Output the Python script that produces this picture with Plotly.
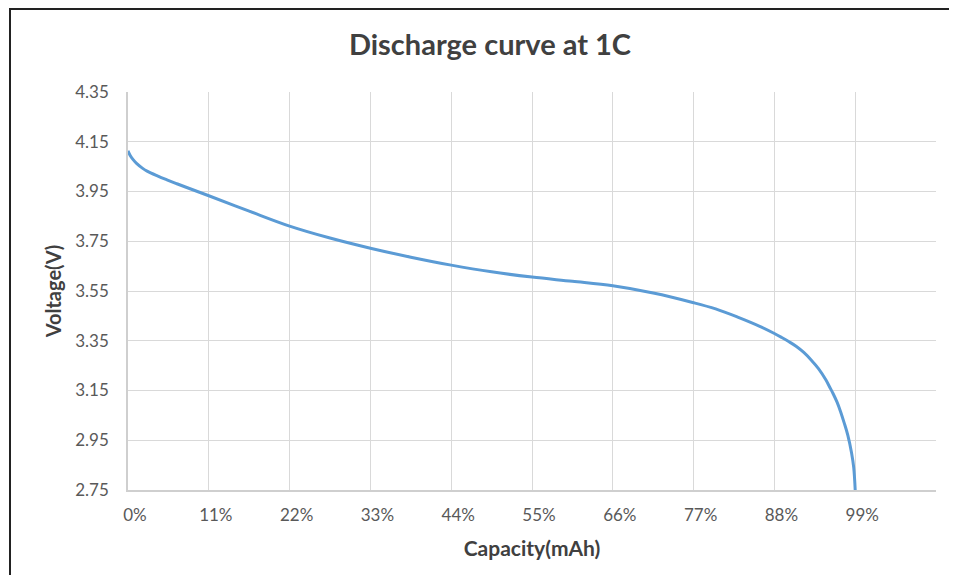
import plotly.graph_objects as go

# Data
capacity_pct = [0, 0.3, 0.7, 1.2, 2.0, 2.6, 4.0, 5.3, 6.5, 8, 11, 16.5, 22, 27.5, 33,
                38.5, 44, 49.5, 55, 60.5, 66, 71.5, 77, 80, 83, 86, 88, 89, 90, 91, 92,
                93, 94, 95, 95.5, 96, 96.5, 97, 97.5, 98, 98.5, 98.8, 99.0]
voltage = [4.114, 4.095, 4.078, 4.062, 4.043, 4.032, 4.013, 3.997, 3.983, 3.966, 3.933,
           3.871, 3.811, 3.763, 3.722, 3.686, 3.654, 3.627, 3.606, 3.589, 3.571, 3.542,
           3.503, 3.478, 3.445, 3.408, 3.379, 3.363, 3.346, 3.327, 3.303, 3.273, 3.238,
           3.193, 3.165, 3.137, 3.105, 3.066, 3.020, 2.970, 2.900, 2.840, 2.75]

x_tickvals = [0, 11, 22, 33, 44, 55, 66, 77, 88, 99, 110]
x_ticktext = ["0%", "11%", "22%", "33%", "44%", "55%", "66%", "77%", "88%", "99%", ""]
y_tickvals = [2.75, 2.95, 3.15, 3.35, 3.55, 3.75, 3.95, 4.15, 4.35]
y_ticktext = ["2.75", "2.95", "3.15", "3.35", "3.55", "3.75", "3.95", "4.15", "4.35"]

# The page body has an 8px margin, so work in figure coordinates = reference - 8
OFF = 8
W, H = 957 - 2 * OFF, 583 - 2 * OFF
L, T = 128 - OFF, 92 - OFF
pw, ph = 808, 398
R = W - L - pw
B = H - T - ph


def px_x(p):
    return (p - OFF - L) / pw


def px_y(p):
    return (H - B - (p - OFF)) / ph


FONT = "Lato"
GRID = "#d9d9d9"
TXT = "#595959"

fig = go.Figure()
fig.add_trace(go.Scatter(
    x=capacity_pct, y=voltage, mode="lines",
    line=dict(color="#5b9bd5", width=3, shape="spline", smoothing=1.0),
    showlegend=False, hoverinfo="x+y",
))

fig.update_layout(
    width=W, height=H,
    margin=dict(l=L, r=R, t=T, b=B),
    paper_bgcolor="white", plot_bgcolor="white",
    title=dict(text="Discharge curve at 1C", x=(490 - OFF) / W, xref="container",
               xanchor="center", y=1 - (45 - OFF) / H, yref="container", yanchor="middle",
               font=dict(family=FONT, size=29, color="#404040", weight="bold")),
    xaxis=dict(range=[0, 110], tickmode="array", tickvals=x_tickvals, ticktext=x_ticktext,
               showgrid=True, gridcolor=GRID, gridwidth=1, zeroline=False,
               showline=True, linecolor="#cfcfcf", linewidth=1.5,
               ticks="outside", ticklen=9, tickcolor="rgba(0,0,0,0)",
               ticklabelshift=7,
               tickfont=dict(family=FONT, size=17, color=TXT),
               title=dict(text="Capacity(mAh)", standoff=17,
                          font=dict(family=FONT, size=21, color="#404040", weight="bold"))),
    yaxis=dict(range=[2.75, 4.35], tickmode="array", tickvals=y_tickvals, ticktext=y_ticktext,
               showgrid=True, gridcolor=GRID, gridwidth=1, zeroline=False,
               showline=True, linecolor="#cfcfcf", linewidth=1.5,
               ticks="outside", ticklen=14, tickcolor="rgba(0,0,0,0)",
               tickfont=dict(family=FONT, size=17, color=TXT),
               title=dict(text="Voltage(V)", standoff=8,
                          font=dict(family=FONT, size=20, color="#404040", weight="bold"))),
    shapes=[
        dict(type="line", xref="paper", yref="paper", x0=px_x(10), x1=px_x(10),
             y0=px_y(9), y1=px_y(600), line=dict(color="#222222", width=2), layer="above"),
        dict(type="line", xref="paper", yref="paper", x0=px_x(9), x1=px_x(970),
             y0=px_y(9), y1=px_y(9), line=dict(color="#222222", width=2), layer="above"),
    ],
)

fig.write_html("out.html")
